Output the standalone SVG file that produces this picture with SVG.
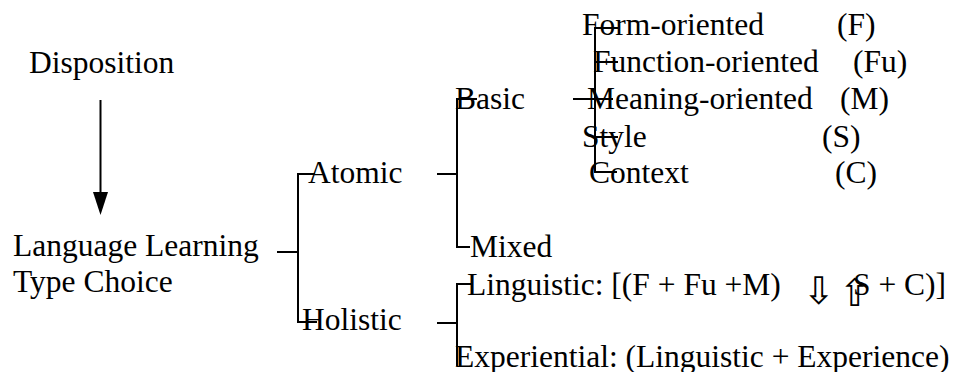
<svg xmlns="http://www.w3.org/2000/svg" width="956" height="372" viewBox="0 0 956 372">
<style>
.t{font-size:31.5px;fill:#000}
.ln{stroke:#000;stroke-width:2;fill:none}
</style>
<rect width="956" height="372" fill="#fff"/>
<g id="connectors">
<line class="ln" x1="100.5" y1="100" x2="100.5" y2="196"/>
<polygon points="93,192 108,192 100.5,215" fill="#000"/>
<path class="ln" d="M277,252H298M315,174H298V322H317"/>
<path class="ln" d="M437,174H457M477,99H457V247H470"/>
<path class="ln" d="M437,323H457M473,284H457V366"/>
<path class="ln" d="M573,99H613M618,28H595V172H617M595,62H618M595,137H618"/>
</g>
<g font-family="'Liberation Serif', 'DejaVu Serif', serif" class="t">
<g id="disposition"><text x="29" y="73">Disposition</text></g>
<g id="llt"><text x="13" y="256">Language Learning</text><text x="13" y="292">Type Choice</text></g>
<g id="atomic"><text x="308" y="183">Atomic</text></g>
<g id="holistic"><text x="302" y="330">Holistic</text></g>
<g id="basic"><text x="455" y="109">Basic</text></g>
<g id="mixed"><text x="470" y="257">Mixed</text></g>
<g id="form"><text x="582" y="35">Form-oriented</text><text x="837" y="35">(F)</text></g>
<g id="function"><text x="593" y="72">Function-oriented</text><text x="853" y="72">(Fu)</text></g>
<g id="meaning"><text x="587" y="109">Meaning-oriented</text><text x="840" y="109">(M)</text></g>
<g id="style"><text x="582" y="147">Style</text><text x="822" y="147">(S)</text></g>
<g id="context"><text x="589" y="183">Context</text><text x="835" y="183">(C)</text></g>
<g id="linguistic"><text x="467" y="295">Linguistic: [(F + Fu +M)</text><text font-family="'DejaVu Sans', sans-serif" font-size="38" x="803" y="304">⇩</text><text font-family="'DejaVu Sans', sans-serif" font-size="38" x="839" y="306">⇧</text><text x="853" y="295">S + C)]</text></g>
<g id="experiential"><text x="455" y="367">Experiential: (Linguistic + Experience)</text></g>
</g>
</svg>
